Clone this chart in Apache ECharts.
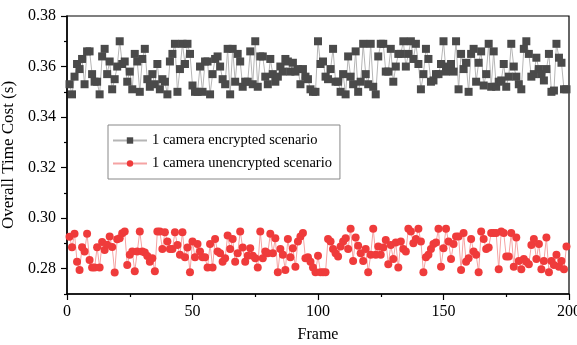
<!DOCTYPE html>
<html>
<head>
<meta charset="utf-8">
<script src="https://cdn.jsdelivr.net/npm/echarts@6/dist/echarts.min.js"></script>
<style>
  html, body { margin: 0; padding: 0; background: #fff; }
  #chart { width: 577px; height: 345px; }
</style>
</head>
<body>
<div id="chart"></div>
<script>
// frame numbers start at 1, one point per frame
const firstFrame = 1;

// 1 camera encrypted scenario (s)
const encrypted = [
  0.353, 0.349, 0.356, 0.361, 0.359, 0.363, 0.353, 0.366, 0.366, 0.357,
  0.354, 0.354, 0.349, 0.364, 0.367, 0.357, 0.362, 0.351, 0.355, 0.360,
  0.370, 0.361, 0.362, 0.354, 0.358, 0.351, 0.365, 0.362, 0.350, 0.363,
  0.367, 0.355, 0.352, 0.357, 0.353, 0.361, 0.351, 0.355, 0.354, 0.349,
  0.362, 0.365, 0.369, 0.350, 0.359, 0.369, 0.361, 0.369, 0.365, 0.3525,
  0.350, 0.350, 0.360, 0.350, 0.362, 0.362, 0.349, 0.357, 0.363, 0.364,
  0.360, 0.355, 0.353, 0.367, 0.349, 0.367, 0.354, 0.365, 0.362, 0.352,
  0.354, 0.354, 0.366, 0.353, 0.370, 0.352, 0.364, 0.364,
  0.356, 0.353, 0.363, 0.357, 0.354, 0.356, 0.360, 0.358, 0.363, 0.362,
  0.358, 0.3615, 0.358, 0.359, 0.353, 0.359, 0.356, 0.355, 0.351, 0.350,
  0.350, 0.370, 0.361, 0.362, 0.356, 0.355, 0.359, 0.367, 0.354, 0.354,
  0.350, 0.357, 0.349, 0.364, 0.356, 0.353, 0.366, 0.350, 0.354, 0.369,
  0.357,
  0.353, 0.369, 0.352, 0.349, 0.364, 0.369, 0.369, 0.358, 0.358, 0.367,
  0.354, 0.360, 0.365, 0.365, 0.370, 0.360, 0.365, 0.370, 0.363, 0.369,
  0.361, 0.351, 0.357, 0.367, 0.363, 0.354, 0.3545, 0.357, 0.357, 0.361,
  0.370, 0.358, 0.360, 0.361, 0.358, 0.370, 0.351, 0.365,
  0.359, 0.3615, 0.350, 0.365, 0.367, 0.354, 0.3615, 0.366, 0.3525, 0.357,
  0.369, 0.352, 0.366, 0.352, 0.354, 0.3545, 0.361, 0.352, 0.356, 0.369,
  0.360, 0.356, 0.353, 0.351, 0.367, 0.370, 0.365, 0.356, 0.357, 0.3635,
  0.359, 0.357, 0.3545, 0.359, 0.365, 0.350, 0.3505, 0.369, 0.3635, 0.3615,
  0.351, 0.351
];

// 1 camera unencrypted scenario (s)
const unencrypted = [
  0.2927, 0.2885, 0.2938, 0.2828, 0.2795, 0.2885, 0.2868, 0.2938, 0.2835, 0.2805,
  0.2805, 0.2885, 0.2805, 0.2906, 0.2874, 0.2895, 0.2928, 0.2886, 0.2785, 0.2917,
  0.2921, 0.2940, 0.2947, 0.2815, 0.2855, 0.2868, 0.2790, 0.2868, 0.2947, 0.2868,
  0.2864, 0.2850, 0.2828, 0.2841, 0.2790, 0.2947, 0.2947, 0.2878, 0.2944,
  0.2908, 0.2878, 0.2878, 0.2944, 0.2894, 0.2855, 0.2944, 0.2845, 0.2884, 0.2786,
  0.2908, 0.2845, 0.2898, 0.2868, 0.2845, 0.2845, 0.2805, 0.2898, 0.2805, 0.2918,
  0.2868, 0.2861, 0.2828, 0.2841, 0.2931, 0.2878, 0.2918, 0.2828, 0.2861, 0.2947,
  0.2884, 0.2828, 0.2851, 0.2881, 0.2851, 0.2841, 0.2805, 0.2947, 0.2841, 0.2868,
  0.2861, 0.2938, 0.2861, 0.2921, 0.2786, 0.2878, 0.2855, 0.2795, 0.2918, 0.2845,
  0.2881, 0.2808, 0.2908, 0.2928, 0.2941, 0.2841, 0.2845, 0.2828, 0.2805, 0.2786,
  0.2851, 0.2786, 0.2786, 0.2786, 0.2918, 0.2908, 0.2878, 0.2861, 0.2848, 0.2888,
  0.2908, 0.2921, 0.2878, 0.2958, 0.2831, 0.2924, 0.2891, 0.2861, 0.2831, 0.2878,
  0.2786, 0.2855, 0.2958, 0.2855, 0.2888, 0.2855, 0.2884, 0.2914, 0.2818, 0.2894,
  0.2838, 0.2904, 0.2805, 0.2908, 0.2878, 0.2868, 0.2958, 0.2947, 0.2901, 0.2918,
  0.2958, 0.2908, 0.2786, 0.2845, 0.2855, 0.2878, 0.2898, 0.2904, 0.2958, 0.2808,
  0.2881, 0.2958, 0.2908, 0.2838, 0.2898, 0.2928, 0.2928, 0.2795, 0.2941,
  0.2828, 0.2841, 0.2918, 0.2868, 0.2855, 0.2786, 0.2947, 0.2918, 0.2878, 0.2884,
  0.2941, 0.2941, 0.2941, 0.2798, 0.2947, 0.2941, 0.2848, 0.2848, 0.2941, 0.2808,
  0.2924, 0.2831, 0.2798, 0.2838, 0.2828, 0.2818, 0.2894, 0.2918, 0.2838, 0.2898,
  0.2798, 0.2831, 0.2924, 0.2786, 0.2831, 0.2815, 0.2855, 0.2808, 0.2831, 0.2798,
  0.2888
];

const xTicks = [0, 50, 100, 150, 200];
const xMinorTicks = [25, 75, 125, 175];
const yTicks = [0.28, 0.30, 0.32, 0.34, 0.36, 0.38];
const yMinorTicks = [0.27, 0.29, 0.31, 0.33, 0.35, 0.37];

const FONT = "'Liberation Serif', 'Times New Roman', serif";

const toPairs = (arr) => arr.map((v, i) => [i + firstFrame, v]);

const chart = echarts.init(document.getElementById("chart"));

const axisLineStyle = { color: "#000", width: 1.5 };
const tickStyle = { color: "#000", width: 1.2 };

chart.setOption({
  animation: false,
  grid: {
    left: 67, right: 8, top: 16, bottom: 51,
    outerBoundsMode: "none",
    containLabel: false,
    show: true, borderColor: "#000", borderWidth: 1.2,
  },
  legend: {
    orient: "vertical",
    left: 108,
    top: 125,
    padding: [8, 8, 8, 4],
    itemGap: 8,
    itemWidth: 34,
    itemHeight: 8,
    borderColor: "#888",
    borderWidth: 1,
    textStyle: { fontFamily: FONT, fontSize: 14.5, color: "#000" },
    data: ["1 camera encrypted scenario", "1 camera unencrypted scenario"],
  },
  xAxis: [
    {
      type: "value",
      min: 0,
      max: 200,
      name: "Frame",
      nameLocation: "middle",
      nameGap: 33,
      nameTextStyle: { fontFamily: FONT, fontSize: 16, color: "#000" },
      axisLine: { lineStyle: axisLineStyle },
      axisTick: { customValues: xTicks, length: 6, lineStyle: tickStyle },
      axisLabel: { customValues: xTicks, fontFamily: FONT, fontSize: 16, color: "#000", margin: 10 },
      splitLine: { show: false },
    },
    {
      type: "value",
      min: 0,
      max: 200,
      position: "bottom",
      axisLine: { show: false },
      axisTick: { customValues: xMinorTicks, length: 3, lineStyle: tickStyle },
      axisLabel: { show: false },
      splitLine: { show: false },
    },
  ],
  yAxis: [
    {
      type: "value",
      min: 0.27,
      max: 0.38,
      name: "Overall Time Cost (s)",
      nameLocation: "middle",
      nameGap: 42,
      nameTextStyle: { fontFamily: FONT, fontSize: 17, color: "#000" },
      axisLine: { show: true, lineStyle: axisLineStyle },
      axisTick: { show: true, customValues: yTicks, length: 6, lineStyle: tickStyle },
      axisLabel: {
        customValues: yTicks,
        fontFamily: FONT,
        fontSize: 16,
        color: "#000",
        margin: 11,
        formatter: (v) => v.toFixed(2),
      },
      splitLine: { show: false },
    },
    {
      type: "value",
      min: 0.27,
      max: 0.38,
      position: "left",
      axisLine: { show: false },
      axisTick: { show: true, customValues: yMinorTicks, length: 3, lineStyle: tickStyle },
      axisLabel: { show: false },
      splitLine: { show: false },
    },
  ],
  series: [
    {
      name: "1 camera encrypted scenario",
      type: "line",
      data: toPairs(encrypted),
      symbol: "rect",
      symbolSize: 8,
      itemStyle: { color: "#4a4a4a" },
      lineStyle: { color: "#b5b5b5", width: 1 },
      z: 3,
    },
    {
      name: "1 camera unencrypted scenario",
      type: "line",
      data: toPairs(unencrypted),
      symbol: "circle",
      symbolSize: 8,
      itemStyle: { color: "#ef3b3b" },
      lineStyle: { color: "#f5a3a3", width: 1 },
      z: 3,
    },
  ],
});
</script>
</body>
</html>
